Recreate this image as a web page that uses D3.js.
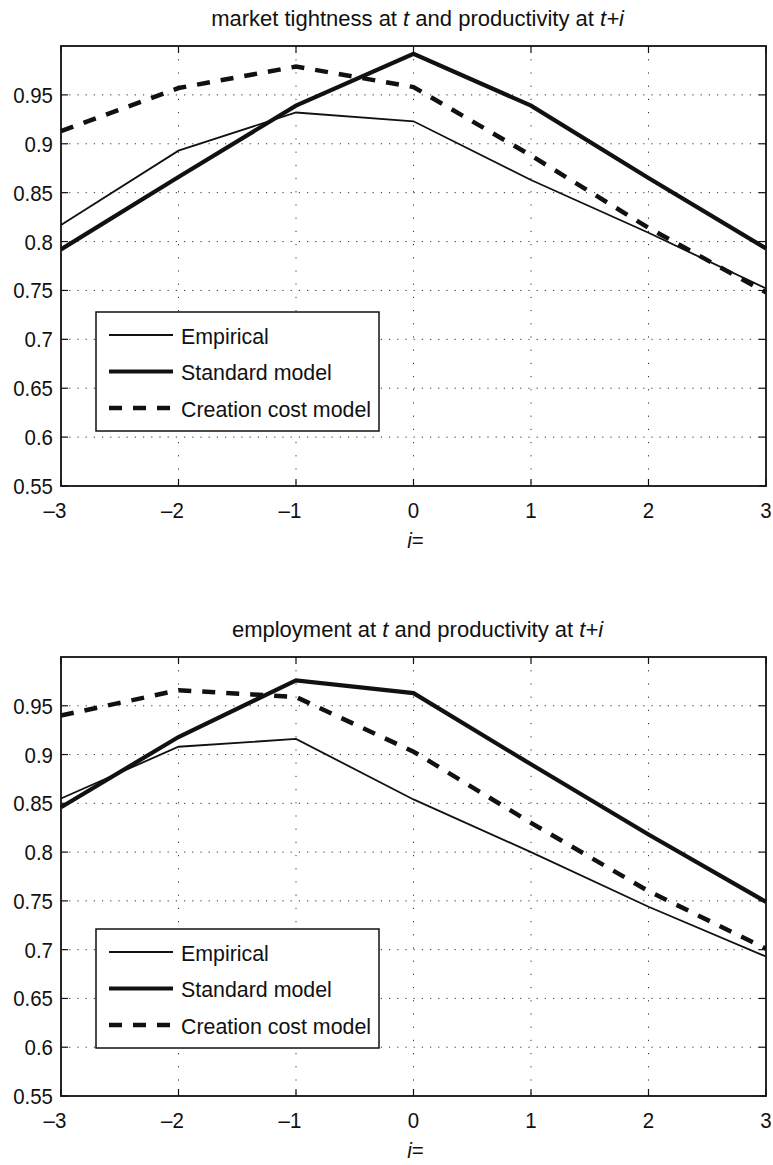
<!DOCTYPE html>
<html>
<head>
<meta charset="utf-8">
<script src="https://cdn.jsdelivr.net/npm/d3@7"></script>
<style>
  body { margin: 0; background: white; }
  text { font-family: "Liberation Sans", Arial, Helvetica, sans-serif; fill: #111; }
</style>
</head>
<body>
<div id="chart"></div>
<script>
// lags i
var lags = [-3, -2, -1, 0, 1, 2, 3];
var yTicks = [0.55, 0.6, 0.65, 0.7, 0.75, 0.8, 0.85, 0.9, 0.95];

// panel 1: market tightness at t and productivity at t+i
var tightEmpirical = [0.817, 0.893, 0.932, 0.923, 0.863, 0.809, 0.752];
var tightStandard  = [0.792, 0.866, 0.939, 0.992, 0.939, 0.865, 0.793];
var tightCreation  = [0.913, 0.957, 0.979, 0.958, 0.888, 0.814, 0.748];

// panel 2: employment at t and productivity at t+i
var empEmpirical = [0.855, 0.908, 0.916, 0.854, 0.800, 0.744, 0.693];
var empStandard  = [0.846, 0.918, 0.976, 0.963, 0.890, 0.818, 0.749];
var empCreation  = [0.940, 0.966, 0.959, 0.903, 0.830, 0.760, 0.701];

var seriesNames = ["Empirical", "Standard model", "Creation cost model"];
var seriesStyle = [
  {width: 1.8, dash: null},
  {width: 4.2, dash: null},
  {width: 4.5, dash: "13,11"}
];

var W = 773, H = 1165;
var left = 61, right = 766;
var sx = 0.93; // the original font is a bit narrower than Arial

var panels = [
  {title: ["market tightness at ", "t", " and productivity at ", "t+i"],
   top: 46, bottom: 486, legendTop: 312,
   series: [tightEmpirical, tightStandard, tightCreation]},
  {title: ["employment at ", "t", " and productivity at ", "t+i"],
   top: 657, bottom: 1096, legendTop: 929,
   series: [empEmpirical, empStandard, empCreation]}
];

var svg = d3.select("#chart").append("svg")
    .attr("width", W)
    .attr("height", H)
    .style("background-color", "white");

var x = d3.scaleLinear().domain([-3, 3]).range([left, right]);

// text placed at (px, py), squeezed horizontally
function label(sel, px, py, size, anchor) {
  return sel.append("text")
      .attr("transform", "translate(" + px + "," + py + ") scale(" + sx + ",1)")
      .attr("text-anchor", anchor)
      .style("font-size", size + "px");
}

panels.forEach(function(p) {
  var y = d3.scaleLinear().domain([0.55, 1.0]).range([p.bottom, p.top]);
  var g = svg.append("g");

  // dotted grid
  g.selectAll(".hgrid").data(yTicks.slice(1)).enter().append("line")
      .attr("x1", left).attr("x2", right)
      .attr("y1", function(d) { return y(d); })
      .attr("y2", function(d) { return y(d); })
      .attr("stroke", "#333").attr("stroke-width", 1)
      .attr("stroke-dasharray", "1.2,7");
  g.selectAll(".vgrid").data(lags.slice(1, -1)).enter().append("line")
      .attr("y1", p.top).attr("y2", p.bottom)
      .attr("x1", function(d) { return x(d); })
      .attr("x2", function(d) { return x(d); })
      .attr("stroke", "#333").attr("stroke-width", 1)
      .attr("stroke-dasharray", "1.2,12");

  // inward ticks on all sides
  var tl = 7;
  lags.forEach(function(d) {
    g.append("line").attr("x1", x(d)).attr("x2", x(d))
        .attr("y1", p.bottom).attr("y2", p.bottom - tl)
        .attr("stroke", "#111").attr("stroke-width", 1.2);
    g.append("line").attr("x1", x(d)).attr("x2", x(d))
        .attr("y1", p.top).attr("y2", p.top + tl)
        .attr("stroke", "#111").attr("stroke-width", 1.2);
  });
  yTicks.forEach(function(d) {
    g.append("line").attr("x1", left).attr("x2", left + tl)
        .attr("y1", y(d)).attr("y2", y(d))
        .attr("stroke", "#111").attr("stroke-width", 1.2);
    g.append("line").attr("x1", right).attr("x2", right - tl)
        .attr("y1", y(d)).attr("y2", y(d))
        .attr("stroke", "#111").attr("stroke-width", 1.2);
  });

  // series
  var line = d3.line()
      .x(function(d, i) { return x(lags[i]); })
      .y(function(d) { return y(d); });
  p.series.forEach(function(vals, k) {
    g.append("path")
        .datum(vals)
        .attr("d", line)
        .attr("fill", "none")
        .attr("stroke", "#111")
        .attr("stroke-width", seriesStyle[k].width)
        .attr("stroke-linejoin", "miter")
        .attr("stroke-dasharray", seriesStyle[k].dash);
  });

  // box
  g.append("rect")
      .attr("x", left).attr("y", p.top)
      .attr("width", right - left).attr("height", p.bottom - p.top)
      .attr("fill", "none").attr("stroke", "#111").attr("stroke-width", 1.8);

  // tick labels
  yTicks.forEach(function(d) {
    label(g, left - 8, y(d) + 8, 22, "end").text(d3.format(".2~f")(d));
  });
  lags.forEach(function(d) {
    label(g, x(d) + (d < 0 ? -6 : 0), p.bottom + 32, 22, "middle")
        .text(d < 0 ? "\u2013" + Math.abs(d) : d);
  });

  // x label
  var xl = label(g, x(0) + 2, p.bottom + 62, 22, "middle");
  xl.append("tspan").style("font-style", "italic").text("i");
  xl.append("tspan").text("=");

  // title
  var t = g.append("text")
      .attr("x", (left + right) / 2 + 4)
      .attr("y", p.top - 20)
      .attr("text-anchor", "middle")
      .style("font-size", "22px");
  p.title.forEach(function(s, i) {
    t.append("tspan")
        .style("font-style", i % 2 ? "italic" : "normal")
        .text(s);
  });

  // legend
  var lg = g.append("g").attr("transform", "translate(96," + p.legendTop + ")");
  lg.append("rect")
      .attr("width", 283).attr("height", 119)
      .attr("fill", "white").attr("stroke", "#111").attr("stroke-width", 1.5);
  seriesNames.forEach(function(name, k) {
    var ry = 23 + k * 36.5;
    lg.append("line")
        .attr("x1", 13).attr("x2", 77)
        .attr("y1", ry).attr("y2", ry)
        .attr("stroke", "#111")
        .attr("stroke-width", seriesStyle[k].width)
        .attr("stroke-dasharray", seriesStyle[k].dash);
    label(lg, 85, ry + 8.5, 23, "start").text(name);
  });
});
</script>
</body>
</html>
